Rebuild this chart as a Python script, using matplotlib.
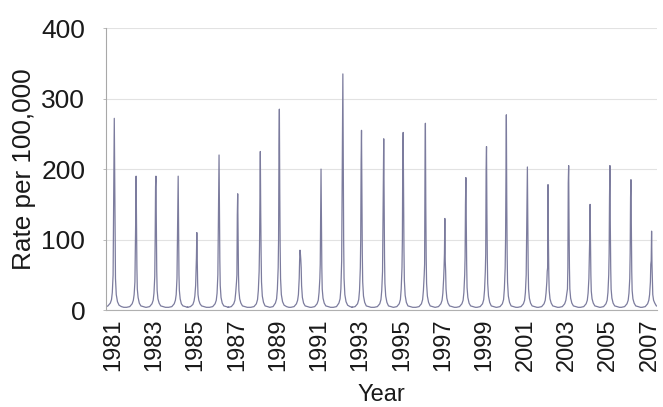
import numpy as np
import matplotlib
matplotlib.use('Agg')
import matplotlib.pyplot as plt

plt.rcParams['font.family'] = ['Liberation Sans', 'DejaVu Sans']

# one influenza season per year, values are weekly rates around the peak week
seasons = list(range(1981, 2008))
peak_week = [3, 6, 4, 8, 3, 7, 2, 7, 3, 4, 4, 7, 2, 6, 3, 7, 4, 5, 5, 3, 4, 4, 4, 6, 4, 5, 5]
week_offsets = [-24, -16, -10, -7, -5, -3, -2, -1, 0, 1, 2, 3, 5, 8, 12, 18, 24]
rates = [
    [4, 6, 10, 15, 25, 50, 120, 195, 272, 190, 90, 45, 22, 12, 7, 5, 4],
    [4, 5, 9, 14, 22, 40, 80, 130, 190, 125, 60, 30, 18, 10, 6, 5, 4],
    [4, 5, 9, 14, 24, 48, 100, 175, 190, 120, 55, 28, 16, 10, 6, 5, 4],
    [4, 5, 9, 14, 22, 45, 95, 150, 190, 110, 50, 28, 16, 9, 6, 5, 4],
    [4, 5, 8, 13, 20, 35, 55, 75, 110, 70, 40, 22, 14, 9, 6, 5, 4],
    [4, 5, 9, 14, 24, 50, 110, 175, 220, 150, 70, 35, 18, 10, 6, 5, 4],
    [4, 5, 9, 14, 25, 40, 50, 135, 165, 100, 50, 28, 16, 10, 6, 5, 4],
    [4, 5, 9, 15, 28, 55, 90, 160, 225, 140, 80, 40, 20, 11, 6, 5, 4],
    [4, 5, 10, 16, 30, 60, 100, 230, 285, 170, 90, 45, 22, 12, 7, 5, 4],
    [4, 5, 9, 14, 22, 45, 70, 85, 80, 72, 60, 35, 18, 10, 6, 5, 4],
    [4, 5, 9, 14, 25, 45, 65, 130, 200, 120, 60, 30, 17, 10, 6, 5, 4],
    [4, 5, 10, 16, 30, 70, 155, 220, 335, 210, 100, 45, 22, 12, 7, 5, 4],
    [4, 5, 9, 15, 28, 60, 100, 210, 255, 160, 80, 40, 20, 11, 6, 5, 4],
    [4, 5, 9, 15, 28, 55, 110, 180, 243, 150, 75, 38, 20, 11, 6, 5, 4],
    [4, 5, 9, 15, 30, 60, 100, 220, 252, 165, 85, 42, 21, 11, 6, 5, 4],
    [4, 5, 9, 15, 28, 50, 65, 200, 265, 150, 75, 38, 20, 11, 6, 5, 4],
    [4, 5, 9, 14, 24, 45, 60, 80, 130, 70, 55, 30, 17, 10, 6, 5, 4],
    [4, 5, 9, 14, 25, 50, 75, 150, 188, 120, 65, 32, 18, 10, 6, 5, 4],
    [4, 5, 9, 15, 28, 55, 80, 200, 232, 140, 75, 38, 20, 11, 6, 5, 4],
    [4, 5, 9, 15, 30, 60, 100, 200, 277, 160, 80, 40, 20, 11, 6, 5, 4],
    [4, 5, 9, 14, 25, 50, 100, 150, 203, 120, 60, 30, 17, 10, 6, 5, 4],
    [4, 5, 9, 14, 24, 40, 55, 60, 178, 100, 50, 28, 16, 10, 6, 5, 4],
    [4, 5, 9, 14, 22, 30, 60, 180, 205, 120, 60, 30, 17, 10, 6, 5, 4],
    [4, 5, 9, 14, 24, 45, 70, 100, 150, 95, 50, 27, 16, 10, 6, 5, 4],
    [4, 5, 9, 14, 25, 50, 80, 160, 205, 120, 60, 30, 17, 10, 6, 5, 4],
    [4, 5, 9, 14, 24, 45, 80, 160, 185, 110, 55, 28, 16, 10, 6, 5, 4],
    [4, 5, 9, 14, 22, 40, 65, 70, 112, 65, 40, 22, 14, 10, 6, 5, 4],
]
tick_years = list(range(1981, 2008, 2))

t, y = [], []
for yr, wk, row in zip(seasons, peak_week, rates):
    for off, v in zip(week_offsets, row):
        t.append(yr + (wk + off) / 52.0)
        y.append(v)
t = np.array(t)
y = np.array(y)

fig = plt.figure(figsize=(6.63, 4.07), dpi=100)
ax = fig.add_axes([0.16, 0.238, 0.831, 0.693])
ax.plot(t, y, color='#7c7c9e', lw=0.9)

ax.set_xlim(1980.66, 2007.36)
ax.set_ylim(0, 400)
ax.set_yticks([0, 100, 200, 300, 400])
ax.set_xticks(tick_years)
ax.set_xticklabels([str(v) for v in tick_years], rotation=90)
ax.grid(axis='y', color='#e2e2e2', lw=0.8)
ax.set_axisbelow(True)
ax.tick_params(axis='y', length=2, width=0.6, color='#b0b0b0', pad=13, labelsize=19, labelcolor='#1a1a1a')
ax.tick_params(axis='x', length=0, pad=6, labelsize=17, labelcolor='#1a1a1a')
for s in ['top', 'right']:
    ax.spines[s].set_visible(False)
ax.spines['left'].set_color('#a8a8a8')
ax.spines['bottom'].set_color('#b0b0b0')
ax.set_ylabel('Rate per 100,000', fontsize=18.8, color='#1a1a1a', labelpad=4)
ax.set_xlabel('Year', fontsize=17, color='#1a1a1a', labelpad=9)

fig.savefig('out.png', dpi=100)
